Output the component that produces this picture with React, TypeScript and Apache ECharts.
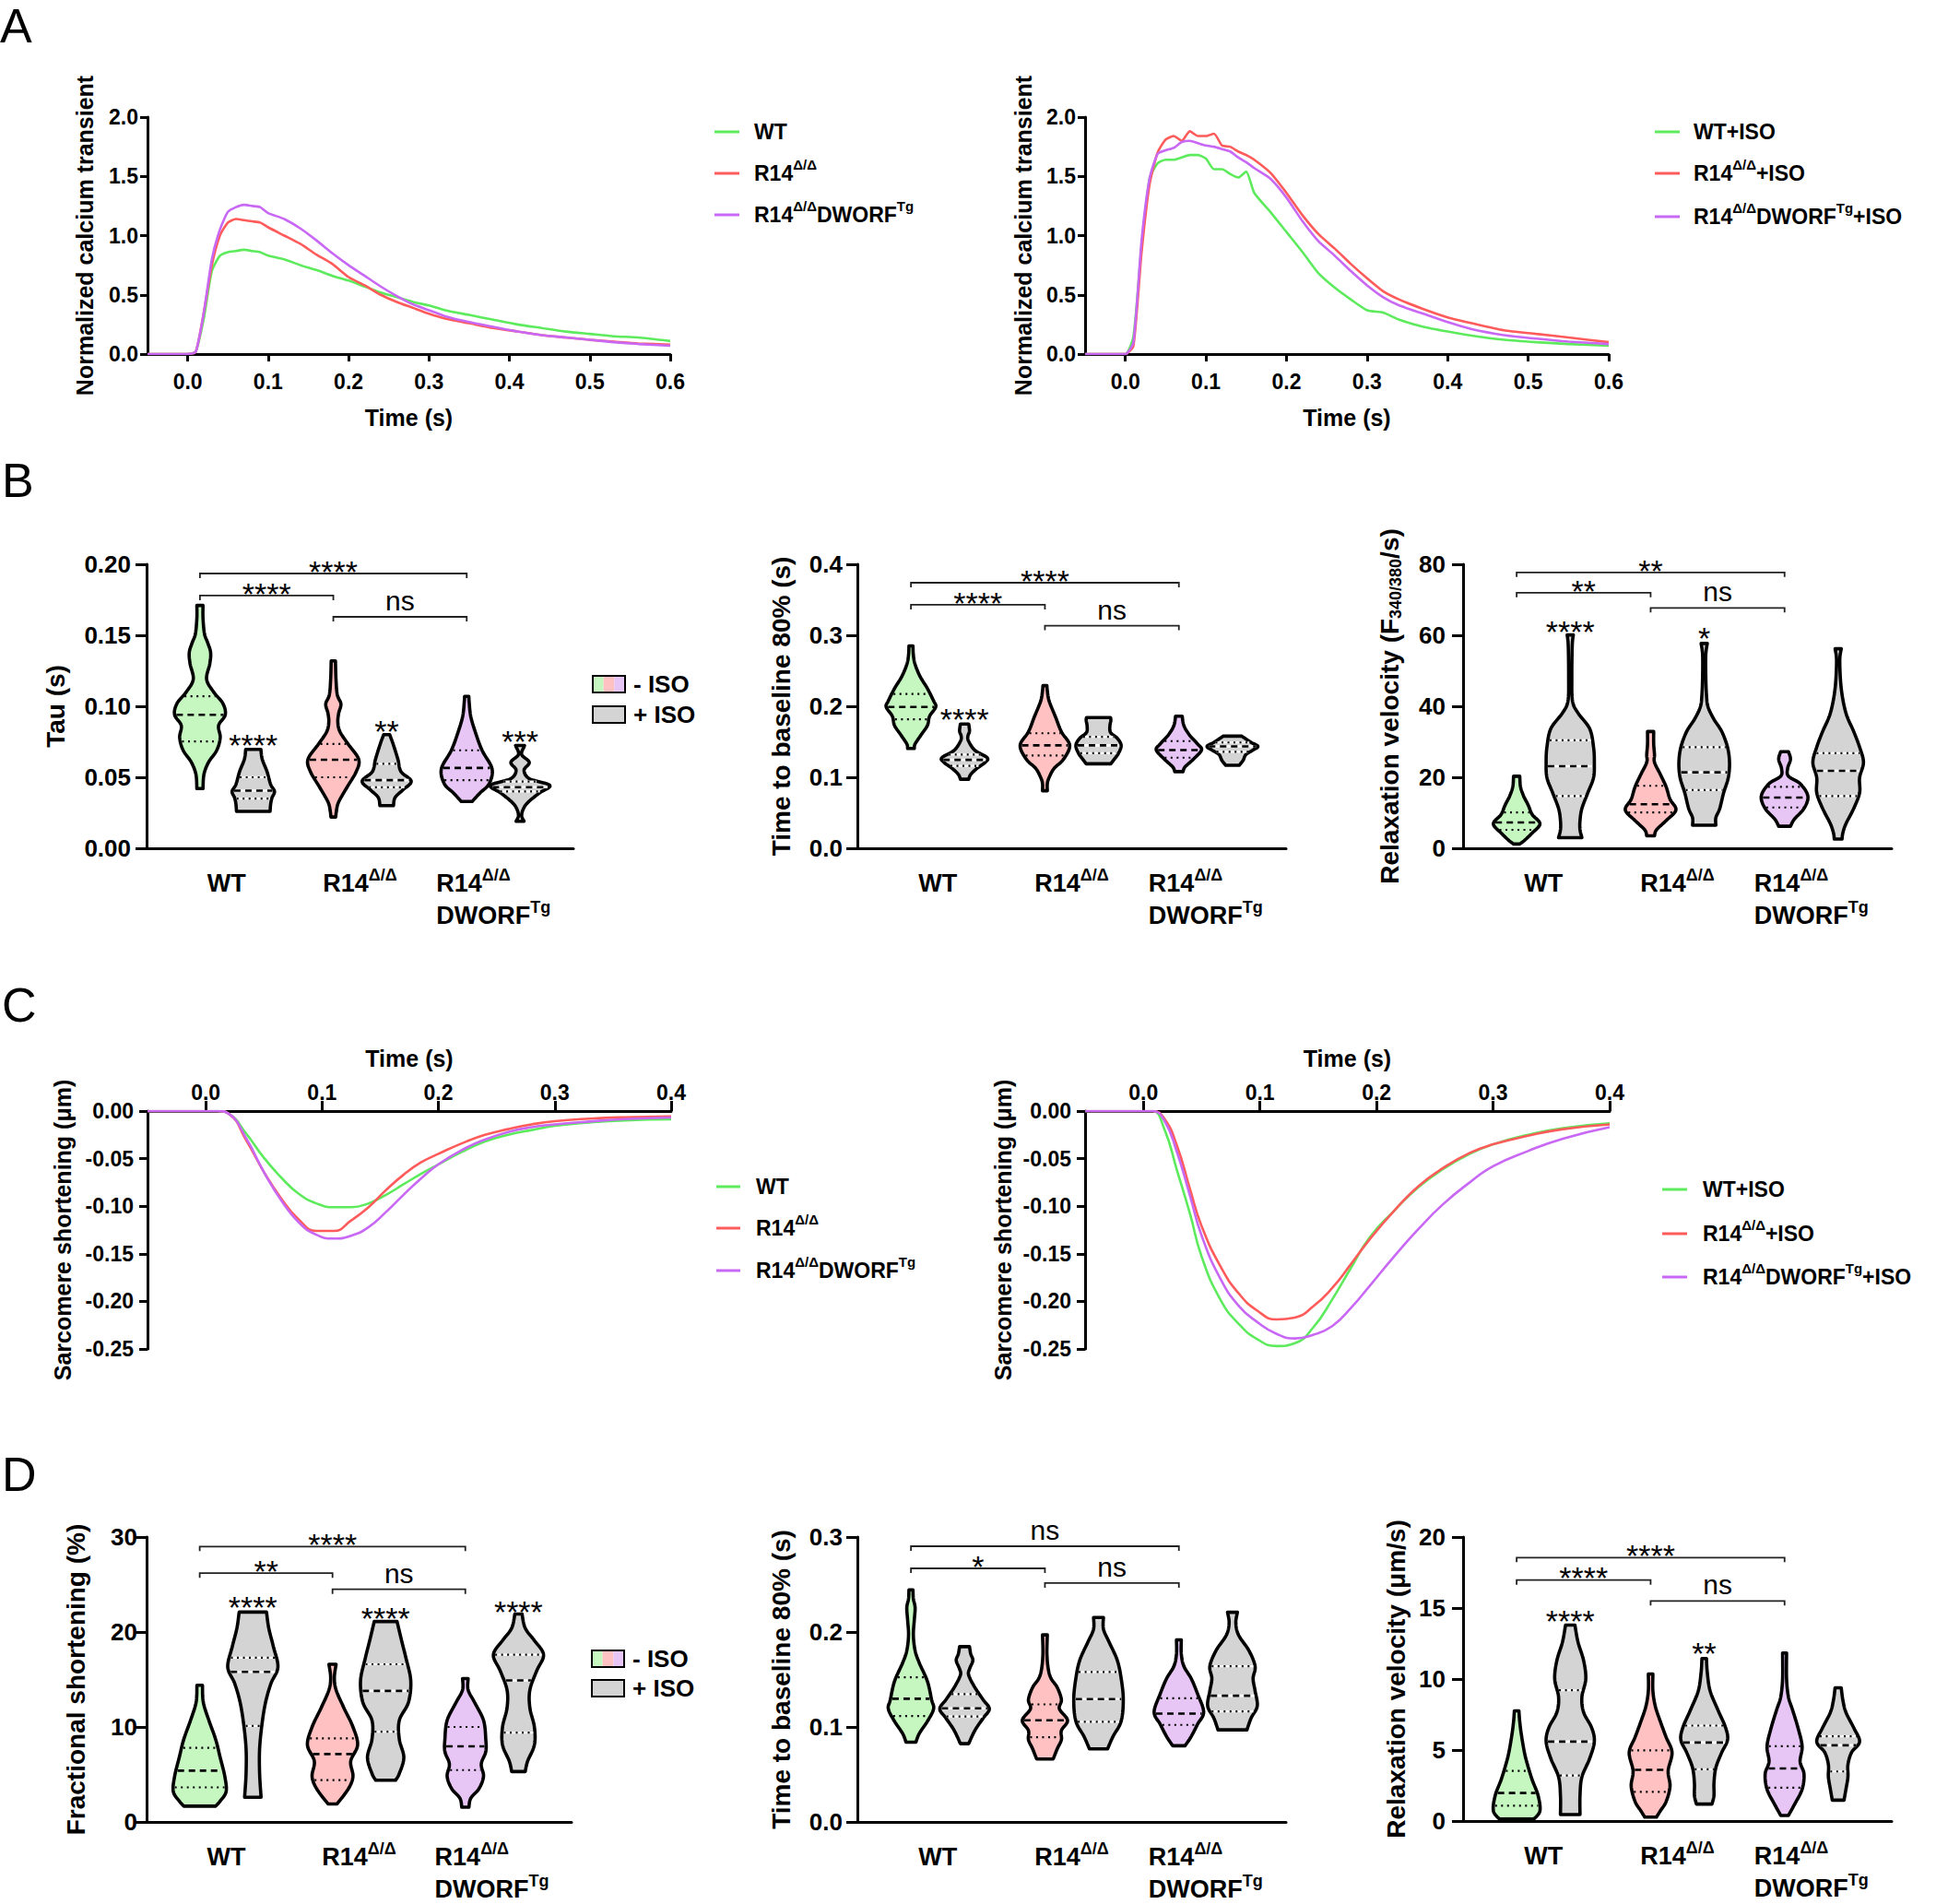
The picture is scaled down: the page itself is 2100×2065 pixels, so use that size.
import React, { useEffect, useRef } from 'react';
import * as echarts from 'echarts';

const FONT = '"Liberation Sans", Arial, Helvetica, sans-serif';
const GREEN = '#5DEB5D';
const RED = '#FF5B5B';
const PURPLE = '#C868F4';
const FILL_WT = '#C6F7C1';
const FILL_R14 = '#FFC1C1';
const FILL_DW = '#E7C6F6';
const FILL_ISO = '#D4D4D4';
const VIOLIN_FILLS = [FILL_WT, FILL_ISO, FILL_R14, FILL_ISO, FILL_DW, FILL_ISO];
const LINE_COLORS = [GREEN, RED, PURPLE];

// ---------- Panel A : calcium transients ----------
const A_X_TICKS = [0, 0.1, 0.2, 0.3, 0.4, 0.5, 0.6];
const A_TIME = [-0.05, -0.03, -0.01, 0, 0.01, 0.02, 0.03, 0.04, 0.05, 0.06, 0.07, 0.08, 0.09, 0.10, 0.12, 0.14, 0.16, 0.18, 0.20, 0.22, 0.24, 0.26, 0.28, 0.30, 0.32, 0.35, 0.38, 0.41, 0.44, 0.47, 0.50, 0.53, 0.56, 0.6];
const A_WT = [0, 0, 0, 0, 0.02, 0.3, 0.7, 0.83, 0.86, 0.87, 0.88, 0.87, 0.86, 0.83, 0.80, 0.75, 0.71, 0.66, 0.62, 0.57, 0.52, 0.48, 0.44, 0.41, 0.37, 0.33, 0.29, 0.25, 0.22, 0.19, 0.17, 0.15, 0.14, 0.11];
const A_R14 = [0, 0, 0, 0, 0.02, 0.35, 0.75, 1.0, 1.11, 1.14, 1.13, 1.12, 1.11, 1.07, 1.00, 0.93, 0.84, 0.76, 0.65, 0.58, 0.50, 0.44, 0.39, 0.34, 0.30, 0.26, 0.22, 0.19, 0.16, 0.14, 0.12, 0.105, 0.09, 0.08];
const A_DW = [0, 0, 0, 0, 0.02, 0.35, 0.8, 1.05, 1.2, 1.24, 1.26, 1.25, 1.24, 1.19, 1.14, 1.06, 0.96, 0.85, 0.75, 0.66, 0.57, 0.49, 0.42, 0.37, 0.32, 0.27, 0.23, 0.19, 0.16, 0.14, 0.12, 0.10, 0.085, 0.07];

const A_ISO_TIME = [-0.05, -0.02, 0, 0.01, 0.02, 0.03, 0.04, 0.05, 0.06, 0.07, 0.08, 0.09, 0.10, 0.11, 0.12, 0.13, 0.14, 0.15, 0.16, 0.18, 0.20, 0.22, 0.24, 0.26, 0.28, 0.30, 0.32, 0.34, 0.37, 0.40, 0.43, 0.47, 0.51, 0.55, 0.6];
const A_WT_ISO = [0, 0, 0, 0.15, 0.9, 1.48, 1.61, 1.64, 1.64, 1.66, 1.68, 1.68, 1.65, 1.56, 1.56, 1.52, 1.49, 1.54, 1.36, 1.20, 1.03, 0.86, 0.68, 0.56, 0.46, 0.37, 0.35, 0.29, 0.23, 0.19, 0.155, 0.12, 0.10, 0.085, 0.07];
const A_R14_ISO = [0, 0, 0, 0.07, 0.85, 1.43, 1.70, 1.81, 1.84, 1.80, 1.88, 1.84, 1.84, 1.86, 1.76, 1.75, 1.71, 1.68, 1.64, 1.53, 1.36, 1.17, 1.01, 0.89, 0.76, 0.64, 0.53, 0.46, 0.38, 0.31, 0.26, 0.20, 0.17, 0.14, 0.10];
const A_DW_ISO = [0, 0, 0, 0.1, 0.95, 1.48, 1.69, 1.72, 1.74, 1.79, 1.80, 1.78, 1.76, 1.75, 1.73, 1.71, 1.66, 1.62, 1.57, 1.48, 1.32, 1.12, 0.95, 0.83, 0.70, 0.58, 0.48, 0.41, 0.34, 0.27, 0.21, 0.16, 0.13, 0.105, 0.085];

// ---------- Panel C : sarcomere shortening ----------
const C_X_TICKS = [0, 0.1, 0.2, 0.3, 0.4];
const C_TIME = [-0.05, -0.02, 0, 0.01, 0.02, 0.035, 0.05, 0.065, 0.08, 0.095, 0.11, 0.125, 0.14, 0.155, 0.17, 0.185, 0.2, 0.22, 0.24, 0.26, 0.28, 0.3, 0.33, 0.36, 0.4];
const C_WT = [0, 0, 0, 0, -0.003, -0.024, -0.049, -0.070, -0.087, -0.097, -0.101, -0.101, -0.097, -0.088, -0.077, -0.066, -0.056, -0.043, -0.032, -0.025, -0.020, -0.0155, -0.012, -0.0098, -0.0087];
const C_R14 = [0, 0, 0, 0, -0.003, -0.031, -0.064, -0.092, -0.114, -0.126, -0.126, -0.115, -0.101, -0.083, -0.067, -0.054, -0.045, -0.034, -0.025, -0.019, -0.014, -0.0106, -0.008, -0.0065, -0.0055];
const C_DW = [0, 0, 0, 0, -0.003, -0.029, -0.064, -0.094, -0.117, -0.130, -0.134, -0.131, -0.122, -0.106, -0.088, -0.071, -0.056, -0.041, -0.030, -0.022, -0.017, -0.014, -0.011, -0.0085, -0.0068];

const C_ISO_TIME = [-0.05, -0.02, 0, 0.008, 0.018, 0.029, 0.04, 0.05, 0.066, 0.082, 0.098, 0.114, 0.13, 0.146, 0.162, 0.178, 0.194, 0.215, 0.236, 0.257, 0.28, 0.3, 0.33, 0.36, 0.4];
const C_WT_ISO = [0, 0, 0, 0, -0.019, -0.063, -0.108, -0.153, -0.198, -0.224, -0.240, -0.247, -0.244, -0.227, -0.198, -0.165, -0.133, -0.105, -0.080, -0.061, -0.045, -0.035, -0.025, -0.018, -0.013];
const C_R14_ISO = [0, 0, 0, 0, -0.008, -0.037, -0.082, -0.121, -0.163, -0.192, -0.210, -0.219, -0.217, -0.205, -0.186, -0.161, -0.135, -0.105, -0.079, -0.060, -0.044, -0.035, -0.026, -0.019, -0.014];
const C_DW_ISO = [0, 0, 0, 0, -0.010, -0.044, -0.089, -0.131, -0.176, -0.205, -0.222, -0.234, -0.239, -0.235, -0.226, -0.207, -0.184, -0.153, -0.124, -0.098, -0.075, -0.058, -0.042, -0.029, -0.017];

// ---------- Violin plots: [value, half-width] profiles, quartiles [q1, median, q3] ----------
// order: WT -ISO, WT +ISO, R14 -ISO, R14 +ISO, R14/DWORF -ISO, R14/DWORF +ISO
const TAU_SHAPES = [
  [[0.042, 0.023], [0.052, 0.03], [0.0605, 0.064], [0.069, 0.126], [0.078, 0.152], [0.0865, 0.14], [0.094, 0.19], [0.102, 0.172], [0.110, 0.103], [0.119, 0.05], [0.130, 0.074], [0.138, 0.08], [0.145, 0.057], [0.151, 0.034], [0.162, 0.023], [0.171, 0.023]],
  [[0.026, 0.126], [0.031, 0.13], [0.0355, 0.14], [0.040, 0.159], [0.045, 0.13], [0.054, 0.103], [0.0627, 0.067], [0.0696, 0.057]],
  [[0.022, 0.018], [0.026, 0.023], [0.0324, 0.039], [0.043, 0.103], [0.054, 0.172], [0.0627, 0.19], [0.0735, 0.11], [0.082, 0.05], [0.0886, 0.034], [0.095, 0.04], [0.1016, 0.057], [0.108, 0.03], [0.119, 0.02], [0.132, 0.016]],
  [[0.030, 0.051], [0.0357, 0.063], [0.041, 0.12], [0.0472, 0.184], [0.054, 0.107], [0.0627, 0.084], [0.0735, 0.048], [0.080, 0.023]],
  [[0.033, 0.041], [0.039, 0.1], [0.0454, 0.168], [0.056, 0.19], [0.069, 0.115], [0.082, 0.064], [0.093, 0.03], [0.1035, 0.018], [0.107, 0.016]],
  [[0.019, 0.03], [0.023, 0.012], [0.028, 0.026], [0.0324, 0.06], [0.039, 0.146], [0.0443, 0.223], [0.049, 0.07], [0.055, 0.03], [0.0605, 0.069], [0.066, 0.012], [0.0715, 0.03], [0.0724, 0.034]],
];
const TAU_QUARTILES = [[0.0752, 0.094, 0.107], [0.035, 0.0406, 0.050], [0.050, 0.0623, 0.0735], [0.043, 0.048, 0.0595], [0.048, 0.0566, 0.069], [0.040, 0.043, 0.047]];
const TAU_BRACKETS = [[0, 4, 0.1935, '****'], [0, 2, 0.178, '****'], [2, 4, 0.163, 'ns']];
const TAU_STARS = [[1, 0.0768, '****'], [3, 0.0865, '**'], [5, 0.079, '***']];

const CA80_SHAPES = [
  [[0.1405, 0.025], [0.147, 0.031], [0.16, 0.077], [0.173, 0.123], [0.186, 0.139], [0.199, 0.185], [0.2076, 0.169], [0.225, 0.123], [0.242, 0.068], [0.259, 0.031], [0.272, 0.018], [0.285, 0.015]],
  [[0.0973, 0.031], [0.104, 0.046], [0.1124, 0.092], [0.121, 0.154], [0.1276, 0.169], [0.138, 0.077], [0.151, 0.03], [0.158, 0.025], [0.165, 0.037], [0.175, 0.031]],
  [[0.081, 0.018], [0.091, 0.018], [0.0995, 0.031], [0.1124, 0.068], [0.1254, 0.139], [0.145, 0.185], [0.164, 0.123], [0.186, 0.077], [0.2076, 0.031], [0.222, 0.018], [0.229, 0.015]],
  [[0.119, 0.092], [0.126, 0.12], [0.134, 0.15], [0.145, 0.169], [0.155, 0.14], [0.163, 0.09], [0.172, 0.085], [0.18, 0.092], [0.184, 0.09]],
  [[0.108, 0.031], [0.1146, 0.046], [0.1254, 0.108], [0.1384, 0.169], [0.147, 0.139], [0.16, 0.077], [0.173, 0.037], [0.186, 0.025]],
  [[0.1168, 0.05], [0.124, 0.08], [0.132, 0.1], [0.138, 0.15], [0.1435, 0.19], [0.149, 0.14], [0.154, 0.1], [0.158, 0.068]],
];
const CA80_QUARTILES = [[0.1816, 0.199, 0.2175], [0.116, 0.1245, 0.132], [0.1306, 0.145, 0.162], [0.134, 0.145, 0.157], [0.1276, 0.1384, 0.151], [0.136, 0.1435, 0.149]];
const CA80_BRACKETS = [[0, 4, 0.374, '****'], [0, 2, 0.343, '****'], [2, 4, 0.3135, 'ns']];
const CA80_STARS = [[1, 0.19, '****']];

const CAVEL_SHAPES = [
  [[1.2, 0.023], [2.2, 0.058], [4.3, 0.116], [6.9, 0.174], [9.5, 0.116], [12.1, 0.087], [14.7, 0.052], [17.3, 0.029], [20.3, 0.023]],
  [[3.0, 0.087], [5.2, 0.073], [7.8, 0.073], [11.2, 0.087], [15.6, 0.131], [19.9, 0.174], [24.2, 0.18], [28.5, 0.174], [33.7, 0.145], [38.1, 0.058], [41.5, 0.017], [48.4, 0.012], [57.1, 0.015], [60.1, 0.023]],
  [[3.5, 0.029], [5.2, 0.044], [7.8, 0.116], [10.8, 0.189], [13.8, 0.145], [17.3, 0.116], [20.8, 0.073], [24.2, 0.029], [26.4, 0.029], [29.4, 0.023], [32.9, 0.023]],
  [[6.5, 0.087], [8.6, 0.087], [11.2, 0.116], [15.6, 0.145], [19.9, 0.18], [24.2, 0.189], [28.5, 0.174], [32.9, 0.131], [36.3, 0.073], [39.8, 0.029], [43.2, 0.017], [48.4, 0.012], [54.5, 0.012], [57.7, 0.023]],
  [[6.2, 0.044], [8.2, 0.073], [11.2, 0.145], [14.7, 0.174], [18.2, 0.116], [20.3, 0.029], [22.5, 0.023], [25.1, 0.044], [27.2, 0.029]],
  [[2.6, 0.029], [4.3, 0.035], [6.9, 0.058], [11.2, 0.116], [15.6, 0.16], [19.9, 0.16], [24.2, 0.189], [28.5, 0.16], [32.9, 0.116], [38.1, 0.058], [45.0, 0.023], [52.8, 0.012], [56.2, 0.023]],
];
const CAVEL_QUARTILES = [[5.2, 7.26, 10.1], [14.7, 23.1, 30.4], [10.1, 12.4, 17.6], [16.4, 21.4, 28.5], [11.5, 14.3, 17.3], [14.7, 21.8, 26.8]];
const CAVEL_BRACKETS = [[0, 4, 77.7, '**'], [0, 2, 72, '**'], [2, 4, 67.7, 'ns']];
const CAVEL_STARS = [[1, 62.7, '****'], [3, 60.7, '*']];

const FS_SHAPES = [
  [[1.66, 0.12], [2.2, 0.154], [3.2, 0.199], [4.8, 0.189], [6.8, 0.154], [8.7, 0.12], [10.7, 0.069], [12.6, 0.027], [14.4, 0.021]],
  [[2.6, 0.062], [5.1, 0.051], [7.7, 0.051], [10.3, 0.069], [12.6, 0.096], [14.6, 0.137], [16.3, 0.189], [18.5, 0.154], [20.4, 0.12], [22.1, 0.103]],
  [[1.9, 0.034], [3.5, 0.12], [4.8, 0.154], [6.4, 0.137], [8.1, 0.189], [10.0, 0.154], [12.0, 0.086], [13.9, 0.027], [15.2, 0.014], [16.6, 0.027]],
  [[4.4, 0.075], [5.1, 0.103], [6.8, 0.137], [8.7, 0.103], [10.7, 0.103], [12.6, 0.172], [14.9, 0.189], [17.2, 0.154], [19.1, 0.12], [21.1, 0.086]],
  [[1.56, 0.027], [2.5, 0.041], [3.5, 0.103], [4.8, 0.137], [6.1, 0.12], [7.4, 0.154], [8.7, 0.154], [10.7, 0.137], [12.6, 0.069], [13.9, 0.021], [15.1, 0.021]],
  [[5.3, 0.051], [6.4, 0.069], [8.1, 0.12], [10.0, 0.12], [12.0, 0.086], [13.9, 0.086], [15.9, 0.137], [17.6, 0.189], [19.1, 0.12], [20.4, 0.051], [21.9, 0.027]],
];
const FS_QUARTILES = [[3.64, 5.4, 7.8], [10.1, 15.8, 17.3], [4.4, 7.15, 8.8], [9.5, 13.8, 16.6], [5.46, 7.96, 10.0], [9.4, 14.9, 17.6]];
const FS_BRACKETS = [[0, 4, 29.0, '****'], [0, 2, 26.2, '**'], [2, 4, 24.5, 'ns']];
const FS_STARS = [[1, 23.2, '****'], [3, 22.0, '****'], [5, 22.75, '****']];

const SL80_SHAPES = [
  [[0.084, 0.037], [0.0931, 0.062], [0.106, 0.123], [0.119, 0.169], [0.1287, 0.154], [0.148, 0.123], [0.1675, 0.062], [0.1804, 0.031], [0.1966, 0.018], [0.2127, 0.025], [0.2257, 0.031], [0.235, 0.018], [0.2444, 0.015]],
  [[0.0824, 0.031], [0.0963, 0.077], [0.1093, 0.139], [0.119, 0.185], [0.1287, 0.139], [0.1416, 0.077], [0.1545, 0.031], [0.161, 0.037], [0.17, 0.062], [0.177, 0.046], [0.1846, 0.037]],
  [[0.0663, 0.062], [0.077, 0.092], [0.0866, 0.123], [0.0963, 0.123], [0.107, 0.169], [0.119, 0.108], [0.1287, 0.123], [0.1416, 0.092], [0.151, 0.046], [0.161, 0.025], [0.177, 0.015], [0.197, 0.018]],
  [[0.077, 0.068], [0.0899, 0.108], [0.106, 0.169], [0.1287, 0.185], [0.1513, 0.169], [0.1707, 0.139], [0.19, 0.077], [0.203, 0.037], [0.2153, 0.037]],
  [[0.0802, 0.046], [0.0899, 0.092], [0.1028, 0.139], [0.1157, 0.185], [0.135, 0.139], [0.151, 0.092], [0.164, 0.037], [0.177, 0.018], [0.1917, 0.018]],
  [[0.097, 0.108], [0.1093, 0.139], [0.122, 0.185], [0.138, 0.169], [0.151, 0.154], [0.164, 0.169], [0.1804, 0.123], [0.1966, 0.046], [0.2095, 0.025], [0.2208, 0.037]],
];
const SL80_QUARTILES = [[0.1115, 0.1297, 0.1523], [0.111, 0.1196, 0.1345], [0.0892, 0.107, 0.1238], [0.1054, 0.1293, 0.1578], [0.1022, 0.1141, 0.1303], [0.1164, 0.1329, 0.164]];
const SL80_BRACKETS = [[0, 4, 0.2903, 'ns'], [0, 2, 0.267, '*'], [2, 4, 0.2515, 'ns']];
const SL80_STARS: any[] = [];

const SLVEL_SHAPES = [
  [[0.15, 0.13], [0.72, 0.174], [1.8, 0.16], [2.9, 0.116], [3.97, 0.081], [4.83, 0.058], [6.1, 0.035], [7.0, 0.023], [7.76, 0.017]],
  [[0.45, 0.073], [1.8, 0.073], [3.1, 0.087], [4.4, 0.145], [5.59, 0.18], [6.57, 0.16], [7.65, 0.1], [8.73, 0.087], [10.0, 0.116], [11.3, 0.1], [12.6, 0.058], [13.8, 0.035]],
  [[0.28, 0.044], [0.72, 0.073], [1.37, 0.116], [2.45, 0.145], [3.53, 0.131], [4.83, 0.16], [5.9, 0.116], [7.0, 0.073], [8.08, 0.035], [9.17, 0.017], [10.36, 0.017]],
  [[1.19, 0.058], [1.8, 0.073], [2.67, 0.073], [3.75, 0.087], [4.83, 0.131], [5.7, 0.174], [6.57, 0.16], [7.87, 0.1], [9.17, 0.044], [10.47, 0.023], [11.44, 0.017]],
  [[0.39, 0.029], [1.15, 0.073], [2.23, 0.131], [3.32, 0.145], [4.18, 0.116], [5.27, 0.131], [6.57, 0.1], [7.87, 0.058], [8.73, 0.029], [10.0, 0.015], [11.83, 0.015]],
  [[1.47, 0.044], [2.23, 0.058], [3.1, 0.073], [3.97, 0.073], [4.83, 0.1], [5.59, 0.16], [6.57, 0.116], [7.65, 0.058], [8.52, 0.035], [9.38, 0.023]],
];
const SLVEL_QUARTILES = [[1.08, 1.97, 3.53], [3.21, 5.59, 9.21], [2.06, 3.6, 4.98], [3.64, 5.53, 6.72], [2.34, 3.7, 5.27], [3.49, 5.33, 5.96]];
const SLVEL_BRACKETS = [[0, 4, 18.55, '****'], [0, 2, 16.97, '****'], [2, 4, 15.5, 'ns']];
const SLVEL_STARS = [[1, 14.47, '****'], [3, 12.2, '**']];

// ---------- labels ----------
const GROUP_LABELS = ['{b|WT}', '{b|R14}{s|Δ/Δ}', '{b|R14}{s|Δ/Δ}\n{b|DWORF}{s|Tg}'];
const LEGEND_BASE = ['{b|WT}', '{b|R14}{s|Δ/Δ}', '{b|R14}{s|Δ/Δ}{b|DWORF}{s|Tg}'];
const LEGEND_ISO = ['{b|WT+ISO}', '{b|R14}{s|Δ/Δ}{b|+ISO}', '{b|R14}{s|Δ/Δ}{b|DWORF}{s|Tg}{b|+ISO}'];
const ISO_LEGEND = ['- ISO', '+ ISO'];
const PANEL_LETTERS = ['A', 'B', 'C', 'D'];

// ---------- layout ----------
const VIOLIN_POS = [0.4, 0.8, 1.4, 1.8, 2.4, 2.8];
const GROUP_POS = [0.6, 1.6, 2.6];
const GRID_BOXES = [
  [160, 127, 567, 257],
  [1177, 127, 568, 257],
  [159, 612, 463, 308],
  [930, 612, 465, 308],
  [1587, 612, 465, 308],
  [160, 1205, 568, 258],
  [1177, 1205, 569, 258],
  [159, 1667, 461, 309],
  [930, 1667, 465, 309],
  [1587, 1667, 465, 308],
];

function fmt(v: number, d: number) {
  const x = Math.abs(v) < 1e-9 ? 0 : v;
  return x.toFixed(d);
}

function densify(p: number[][]) {
  const n = p.length;
  const out: number[][] = [];
  const steps = 10;
  for (let i = 0; i < n - 1; i++) {
    const p0 = p[Math.max(i - 1, 0)], p1 = p[i], p2 = p[i + 1], p3 = p[Math.min(i + 2, n - 1)];
    for (let s = 0; s < steps; s++) {
      const t = s / steps, t2 = t * t, t3 = t2 * t;
      const f = (a: number, b: number, c: number, d: number) =>
        0.5 * (2 * b + (-a + c) * t + (2 * a - 5 * b + 4 * c - d) * t2 + (-a + 3 * b - 3 * c + d) * t3);
      out.push([f(p0[0], p1[0], p2[0], p3[0]), Math.max(1, f(p0[1], p1[1], p2[1], p3[1]))]);
    }
  }
  out.push([p[n - 1][0], Math.max(1, p[n - 1][1])]);
  return out;
}

function widthAt(d: number[][], y: number) {
  for (let i = 0; i < d.length - 1; i++) {
    const a = d[i], b = d[i + 1];
    const lo = Math.min(a[0], b[0]), hi = Math.max(a[0], b[0]);
    if (y >= lo && y <= hi) {
      const t = hi === lo ? 0 : (y - a[0]) / (b[0] - a[0]);
      return a[1] + (b[1] - a[1]) * t;
    }
  }
  return 0;
}

const AXIS_LINE = { show: true, onZero: false, lineStyle: { color: '#000', width: 3 } };
const TICK_STYLE = { color: '#000', width: 3 };

function lineSeries(gi: number, name: string, time: number[], vals: number[], color: string, smooth: number) {
  return {
    type: 'line', name, xAxisIndex: gi, yAxisIndex: gi,
    data: time.map((t, k) => [t, vals[k]]),
    showSymbol: false, symbol: 'none', smooth,
    lineStyle: { color, width: 2.6 }, itemStyle: { color }, z: 3, silent: true,
  };
}

function violinSeries(gi: number, shapes: number[][][], quarts: number[][]) {
  return {
    type: 'custom', xAxisIndex: gi, yAxisIndex: gi, clip: false, silent: true, z: 3,
    data: VIOLIN_POS.map((x) => [x, 0]),
    renderItem: (params: any, api: any) => {
      const i = params.dataIndex;
      const xc = api.value(0);
      const cx = api.coord([xc, 0])[0];
      const unit = api.coord([xc + 1, 0])[0] - cx;
      const pts = shapes[i].map((p) => [api.coord([xc, p[0]])[1], p[1] * unit]);
      const d = densify(pts);
      const right = d.map((q) => [cx + q[1], q[0]]);
      const left = d.slice().reverse().map((q) => [cx - q[1], q[0]]);
      const children: any[] = [{
        type: 'polygon', shape: { points: right.concat(left) },
        style: { fill: VIOLIN_FILLS[i], stroke: '#000', lineWidth: 3.6, lineJoin: 'round' },
      }];
      quarts[i].forEach((val, k) => {
        const y = api.coord([xc, val])[1];
        const w = Math.max(0, widthAt(d, y) - 2);
        const isMed = k === 1;
        if (i % 2 === 1) {
          children.push({ type: 'line', shape: { x1: cx - w, y1: y, x2: cx + w, y2: y }, style: { stroke: '#fff', lineWidth: isMed ? 2.6 : 2.2 } });
        }
        children.push({
          type: 'line', shape: { x1: cx - w, y1: y, x2: cx + w, y2: y },
          style: { stroke: '#000', lineWidth: isMed ? 2.6 : 2.2, lineDash: isMed ? [7, 5] : [2, 4.5] },
        });
      });
      return { type: 'group', children };
    },
  };
}

function bracketSeries(gi: number, brackets: any[]) {
  return {
    type: 'custom', xAxisIndex: gi, yAxisIndex: gi, clip: false, silent: true, z: 4,
    data: brackets.map((b) => [VIOLIN_POS[b[0]], b[2]]),
    renderItem: (params: any, api: any) => {
      const b = brackets[params.dataIndex];
      const p1 = api.coord([VIOLIN_POS[b[0]], b[2]]);
      const p2 = api.coord([VIOLIN_POS[b[1]], b[2]]);
      const isNs = b[3] === 'ns';
      return {
        type: 'group',
        children: [
          {
            type: 'polyline',
            shape: { points: [[p1[0], p1[1] + 5], [p1[0], p1[1]], [p2[0], p2[1]], [p2[0], p2[1] + 5]] },
            style: { stroke: '#222', lineWidth: 1.8, fill: 'none' },
          },
          {
            type: 'text', x: (p1[0] + p2[0]) / 2, y: p1[1] - (isNs ? 17.6 : 2.2),
            style: { text: b[3], fill: '#000', fontSize: isNs ? 30 : 34, fontFamily: FONT, align: 'center', verticalAlign: 'middle' },
          },
        ],
      };
    },
  };
}

function starSeries(gi: number, stars: any[]) {
  return {
    type: 'custom', xAxisIndex: gi, yAxisIndex: gi, clip: false, silent: true, z: 4,
    data: stars.map((s) => [VIOLIN_POS[s[0]], s[1]]),
    renderItem: (params: any, api: any) => {
      const s = stars[params.dataIndex];
      const p = api.coord([VIOLIN_POS[s[0]], s[1]]);
      return {
        type: 'text', x: p[0], y: p[1] + 6,
        style: { text: s[2], fill: '#000', fontSize: 34, fontFamily: FONT, align: 'center', verticalAlign: 'middle' },
      };
    },
  };
}

const CAT_RICH = {
  b: { fontSize: 27, fontWeight: 'bold', fontFamily: FONT, fill: '#000', lineHeight: 35, align: 'left' },
  s: { fontSize: 18, fontWeight: 'bold', fontFamily: FONT, fill: '#000', lineHeight: 18, verticalAlign: 'top', align: 'left' },
};

function categorySeries(gi: number) {
  return {
    type: 'custom', xAxisIndex: gi, yAxisIndex: gi, clip: false, silent: true, z: 4,
    data: GROUP_POS.map((g) => [g, 0]),
    renderItem: (params: any, api: any) => {
      const p = api.coord([api.value(0), 0]);
      return {
        type: 'text', x: p[0], y: p[1] + 20,
        style: { text: GROUP_LABELS[params.dataIndex], rich: CAT_RICH, fill: '#000', fontSize: 27, fontWeight: 'bold', fontFamily: FONT, align: 'center', verticalAlign: 'top' },
      };
    },
  };
}

const LINE_CHARTS = [
  { grid: 0, xMax: 0.6, xTicks: A_X_TICKS, yMin: 0, yMax: 2, yInt: 0.5, yDec: 1, yName: 'Normalized calcium transient', yGap: 56, top: false, xGap: 56, yMargin: 10, yTick: 8, time: A_TIME, vals: [A_WT, A_R14, A_DW], names: ['WT', 'R14', 'R14DWORF'], smooth: 0.2 },
  { grid: 1, xMax: 0.6, xTicks: A_X_TICKS, yMin: 0, yMax: 2, yInt: 0.5, yDec: 1, yName: 'Normalized calcium transient', yGap: 55, top: false, xGap: 56, yMargin: 10, yTick: 8, time: A_ISO_TIME, vals: [A_WT_ISO, A_R14_ISO, A_DW_ISO], names: ['WT+ISO', 'R14+ISO', 'R14DWORF+ISO'], smooth: 0.2 },
  { grid: 5, xMax: 0.4, xTicks: C_X_TICKS, yMin: -0.25, yMax: 0, yInt: 0.05, yDec: 2, yName: 'Sarcomere shortening (μm)', yGap: 80, top: true, xGap: 45, yMargin: 15, yTick: 9, time: C_TIME, vals: [C_WT, C_R14, C_DW], names: ['cWT', 'cR14', 'cR14DWORF'], smooth: 0.5 },
  { grid: 6, xMax: 0.4, xTicks: C_X_TICKS, yMin: -0.25, yMax: 0, yInt: 0.05, yDec: 2, yName: 'Sarcomere shortening (μm)', yGap: 77, top: true, xGap: 45, yMargin: 15, yTick: 9, time: C_ISO_TIME, vals: [C_WT_ISO, C_R14_ISO, C_DW_ISO], names: ['cWT+ISO', 'cR14+ISO', 'cR14DWORF+ISO'], smooth: 0.5 },
];

const TITLE_RICH = {
  m: { fontSize: 28, fontWeight: 'bold', fontFamily: FONT, color: '#000', lineHeight: 32 },
  sub: { fontSize: 18, fontWeight: 'bold', fontFamily: FONT, color: '#000', lineHeight: 18, verticalAlign: 'bottom' },
};

const VIOLIN_CHARTS = [
  { grid: 2, max: 0.2, int: 0.05, dec: 2, name: 'Tau (s)', gap: 85, margin: 17, shapes: TAU_SHAPES, q: TAU_QUARTILES, br: TAU_BRACKETS, st: TAU_STARS },
  { grid: 3, max: 0.4, int: 0.1, dec: 1, name: 'Time to baseline 80% (s)', gap: 69, margin: 16, shapes: CA80_SHAPES, q: CA80_QUARTILES, br: CA80_BRACKETS, st: CA80_STARS },
  { grid: 4, max: 80, int: 20, dec: 0, name: '{m|Relaxation velocity (F}{sub|340/380}{m|/s)}', gap: 64, margin: 19, shapes: CAVEL_SHAPES, q: CAVEL_QUARTILES, br: CAVEL_BRACKETS, st: CAVEL_STARS },
  { grid: 7, max: 30, int: 10, dec: 0, name: 'Fractional shortening (%)', gap: 63, margin: 10, shapes: FS_SHAPES, q: FS_QUARTILES, br: FS_BRACKETS, st: FS_STARS },
  { grid: 8, max: 0.3, int: 0.1, dec: 1, name: 'Time to baseline 80% (s)', gap: 69, margin: 16, shapes: SL80_SHAPES, q: SL80_QUARTILES, br: SL80_BRACKETS, st: SL80_STARS },
  { grid: 9, max: 20, int: 5, dec: 0, name: 'Relaxation velocity (μm/s)', gap: 59, margin: 19, shapes: SLVEL_SHAPES, q: SLVEL_QUARTILES, br: SLVEL_BRACKETS, st: SLVEL_STARS },
];

const LEGEND_POS = [
  { x1: 775, x2: 802, tx: 818, ys: [143, 188, 233], labels: LEGEND_BASE },
  { x1: 1795, x2: 1822, tx: 1837, ys: [143, 188, 235], labels: LEGEND_ISO },
  { x1: 777, x2: 803, tx: 820, ys: [1287, 1332, 1378], labels: LEGEND_BASE },
  { x1: 1803, x2: 1830, tx: 1847, ys: [1290, 1338, 1385], labels: LEGEND_ISO },
];
const ISO_LEGEND_POS = [
  { bx: 643, by: [733, 766], tx: 687, ty: [742, 775] },
  { bx: 642, by: [1790, 1822], tx: 686, ty: [1799, 1831] },
];
const LETTER_POS = [[0, 28], [2, 521], [2, 1090], [2, 1599]];

const LEG_RICH = {
  b: { fontSize: 23, fontWeight: 'bold', fontFamily: FONT, fill: '#000', lineHeight: 34 },
  s: { fontSize: 15, fontWeight: 'bold', fontFamily: FONT, fill: '#000', lineHeight: 15, verticalAlign: 'top' },
};

function buildOption() {
  const grid = GRID_BOXES.map((g) => ({ left: g[0], top: g[1], width: g[2], height: g[3], containLabel: false, outerBoundsMode: 'none' }));
  const xAxis: any[] = new Array(10);
  const yAxis: any[] = new Array(10);
  const series: any[] = [];
  const labelStyle = { fontWeight: 'bold', fontFamily: FONT, color: '#000' };

  LINE_CHARTS.forEach((c) => {
    xAxis[c.grid] = {
      type: 'value', gridIndex: c.grid, min: -0.05, max: c.xMax, position: c.top ? 'top' : 'bottom',
      axisLine: AXIS_LINE,
      axisTick: { show: true, length: c.top ? 11 : 8, lineStyle: TICK_STYLE, customValues: c.xTicks },
      axisLabel: { show: true, customValues: c.xTicks, formatter: (v: number) => fmt(v, 1), margin: c.top ? 9 : 18, fontSize: 23, ...labelStyle },
      splitLine: { show: false },
      name: 'Time (s)', nameLocation: 'middle', nameGap: c.xGap, nameMoveOverlap: false,
      nameTextStyle: { fontSize: 25, ...labelStyle },
    };
    yAxis[c.grid] = {
      type: 'value', gridIndex: c.grid, min: c.yMin, max: c.yMax, interval: c.yInt,
      axisLine: AXIS_LINE,
      axisTick: { show: true, length: c.yTick, lineStyle: TICK_STYLE },
      axisLabel: { show: true, formatter: (v: number) => fmt(v, c.yDec), margin: c.yMargin, fontSize: 23, ...labelStyle },
      splitLine: { show: false },
      name: c.yName, nameLocation: 'middle', nameRotate: 90, nameGap: c.yGap, nameMoveOverlap: false,
      nameTextStyle: { fontSize: 25, ...labelStyle },
    };
    c.vals.forEach((v, k) => series.push(lineSeries(c.grid, c.names[k], c.time, v, LINE_COLORS[k], c.smooth)));
  });

  VIOLIN_CHARTS.forEach((c) => {
    xAxis[c.grid] = {
      type: 'value', gridIndex: c.grid, min: 0, max: 3.2,
      axisLine: AXIS_LINE, axisTick: { show: false }, axisLabel: { show: false }, splitLine: { show: false },
    };
    yAxis[c.grid] = {
      type: 'value', gridIndex: c.grid, min: 0, max: c.max, interval: c.int,
      axisLine: AXIS_LINE,
      axisTick: { show: true, length: 12, lineStyle: TICK_STYLE },
      axisLabel: { show: true, formatter: (v: number) => fmt(v, c.dec), margin: c.margin, fontSize: 26, ...labelStyle },
      splitLine: { show: false },
      name: c.name, nameLocation: 'middle', nameRotate: 90, nameGap: c.gap, nameMoveOverlap: false,
      nameTextStyle: { fontSize: 28, ...labelStyle, rich: TITLE_RICH },
    };
    series.push(violinSeries(c.grid, c.shapes, c.q));
    series.push(bracketSeries(c.grid, c.br));
    if (c.st.length) series.push(starSeries(c.grid, c.st));
    series.push(categorySeries(c.grid));
  });

  const graphic: any[] = [];
  PANEL_LETTERS.forEach((l, i) => {
    graphic.push({
      type: 'text', x: LETTER_POS[i][0], y: LETTER_POS[i][1],
      style: { text: l, fill: '#000', fontSize: 52, fontFamily: FONT, align: 'left', verticalAlign: 'middle' },
    });
  });
  LEGEND_POS.forEach((lp) => {
    lp.ys.forEach((y, k) => {
      graphic.push({ type: 'line', shape: { x1: lp.x1, y1: y, x2: lp.x2, y2: y }, style: { stroke: LINE_COLORS[k], lineWidth: 3 } });
      graphic.push({
        type: 'text', x: lp.tx, y,
        style: { text: lp.labels[k], rich: LEG_RICH, fill: '#000', fontSize: 23, fontWeight: 'bold', fontFamily: FONT, align: 'left', verticalAlign: 'middle' },
      });
    });
  });
  ISO_LEGEND_POS.forEach((ip) => {
    const w = 35, h = 18;
    [FILL_WT, FILL_R14, FILL_DW].forEach((f, k) => {
      graphic.push({ type: 'rect', shape: { x: ip.bx + (k * w) / 3, y: ip.by[0], width: w / 3, height: h }, style: { fill: f } });
    });
    graphic.push({ type: 'rect', shape: { x: ip.bx, y: ip.by[0], width: w, height: h }, style: { fill: 'none', stroke: '#000', lineWidth: 2 } });
    graphic.push({ type: 'rect', shape: { x: ip.bx, y: ip.by[1], width: w, height: h }, style: { fill: FILL_ISO, stroke: '#000', lineWidth: 2 } });
    ISO_LEGEND.forEach((t, k) => {
      graphic.push({
        type: 'text', x: ip.tx, y: ip.ty[k],
        style: { text: t, fill: '#000', fontSize: 26, fontWeight: 'bold', fontFamily: FONT, align: 'left', verticalAlign: 'middle' },
      });
    });
  });

  return {
    animation: false,
    backgroundColor: '#fff',
    grid, xAxis, yAxis, series, graphic,
  };
}

export default function App() {
  const ref = useRef<HTMLDivElement>(null);
  useEffect(() => {
    document.body.style.margin = '0';
    const chart = echarts.init(ref.current as HTMLDivElement, undefined, { renderer: 'svg', width: 2100, height: 2065 });
    chart.setOption(buildOption() as any);
    return () => chart.dispose();
  }, []);
  return <div ref={ref} style={{ position: 'absolute', left: 0, top: 0, width: 2100, height: 2065, background: '#fff' }} />;
}
